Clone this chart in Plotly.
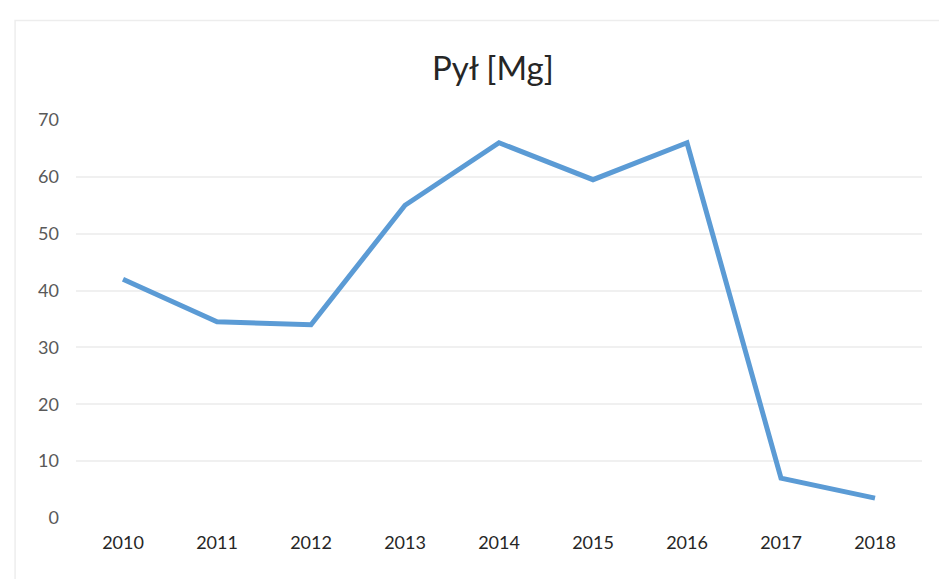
import plotly.graph_objects as go

# dane
lata = ["2010", "2011", "2012", "2013", "2014", "2015", "2016", "2017", "2018"]
pyl_mg = [42, 34.5, 34, 55, 66, 59.5, 66, 7, 3.5]
y_ticks = [0, 10, 20, 30, 40, 50, 60, 70]

fig = go.Figure()
fig.add_trace(go.Scatter(
    x=lata, y=pyl_mg, mode="lines",
    line=dict(color="#5B9BD5", width=5),
    hoverinfo="x+y",
))

fig.update_layout(
    width=947, height=579,
    paper_bgcolor="white", plot_bgcolor="white",
    margin=dict(l=68, r=33, t=112, b=69),
    showlegend=False,
    title=dict(text="Pył [Mg]", x=0.512, xanchor="center", y=0.895, yanchor="middle",
               font=dict(family="Lato, Open Sans, sans-serif", size=33, color="#262626")),
    font=dict(family="Lato, Open Sans, sans-serif", size=16, color="#404040"),
)
fig.update_xaxes(
    type="category", range=[-0.5, 8.5], showgrid=False, zeroline=False, showline=False,
    automargin=False, ticks="", ticklabelstandoff=12, tickfont=dict(size=18, color="#262626"),
)
fig.update_yaxes(
    range=[0, 70], tickvals=y_ticks, showgrid=True, gridcolor="#F0F0F0", gridwidth=1.5,
    automargin=False, zeroline=False, showline=False, ticks="", ticklabelstandoff=16,
    tickfont=dict(size=18, color="#595959"),
)
# delikatna ramka obszaru wykresu
fig.add_shape(type="rect", xref="paper", yref="paper", x0=-0.072, x1=1.027, y0=-0.165, y1=1.25,
              line=dict(color="#EDEDED", width=1.5))

fig.write_html("out.html")
